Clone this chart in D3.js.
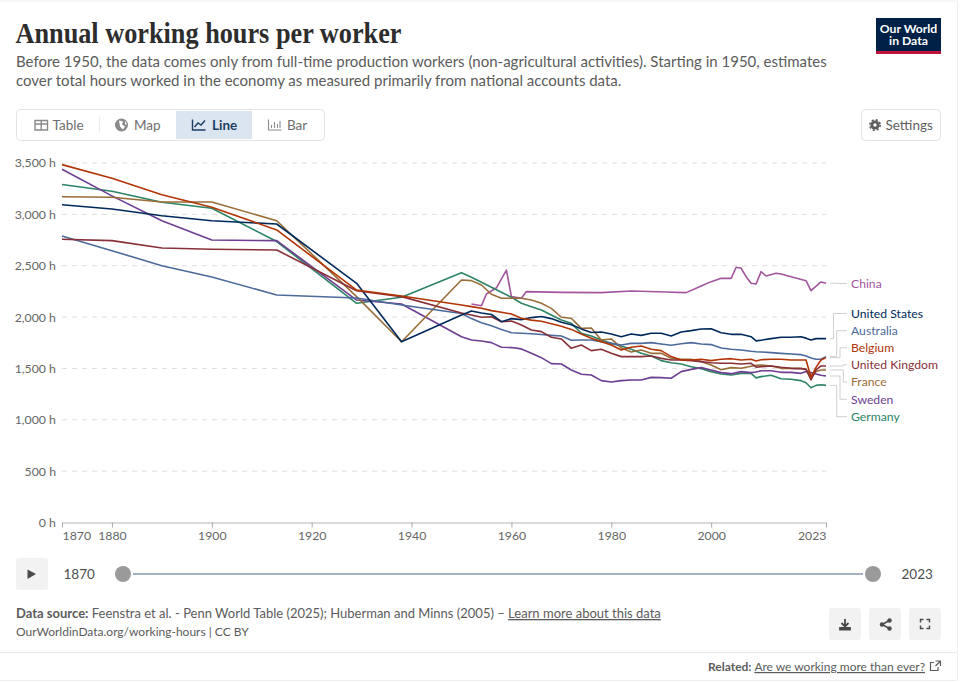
<!DOCTYPE html>
<html lang="en">
<head>
<meta charset="UTF-8" />
<title>Annual working hours per worker</title>
<script src="https://cdn.jsdelivr.net/npm/d3@7"></script>
<style>
  html, body { margin: 0; padding: 0; background: #fff; }
  svg { display: block; }
  text { font-family: Lato, "Noto Sans", sans-serif; }
</style>
</head>
<body>
<div id="chart"></div>
<script>
// shared years for the seven long series
const years = [1870,1880,1890,1900,1913,1929,1938,1950,
  1952,1954,1956,1958,1960,1962,1964,1966,1968,1970,1972,1974,1976,1978,1980,1982,1984,1986,1988,1990,
  1992,1994,1996,1998,2000,2002,2004,2006,2008,2009,2010,2012,2014,2016,2018,2019,2020,2021,2022,2023];

const unitedStates = [3094,3052,2987,2938,2906,2329,1760,2020,
  2060,2040,2025,1955,1985,1975,1995,2005,1985,1950,1925,1885,1850,1855,1835,1809,1835,1822,1842,1842,
  1816,1855,1868,1884,1887,1848,1832,1832,1809,1768,1775,1790,1803,1803,1809,1795,1777,1790,1790,1790];
const australia = [2790,2646,2500,2390,2215,2185,2118,2035,
  1985,1945,1915,1880,1848,1842,1838,1830,1822,1816,1774,1777,1777,1761,1744,1728,1744,1744,1751,1738,
  1725,1741,1751,1738,1732,1699,1686,1680,1667,1662,1660,1654,1647,1641,1634,1621,1602,1589,1589,1615];
const belgium = [3484,3352,3190,3070,2848,2262,2205,2118,
  2102,2086,2063,2047,2030,1988,1970,1960,1935,1910,1880,1835,1793,1761,1728,1680,1706,1718,1686,1673,
  1615,1582,1582,1589,1576,1589,1595,1582,1589,1572,1585,1589,1589,1582,1582,1582,1414,1510,1582,1605];
const unitedKingdom = [2757,2744,2673,2660,2653,2257,2199,2040,
  2020,1998,2003,1955,1962,1923,1874,1858,1803,1787,1696,1728,1673,1686,1647,1615,1615,1615,1621,1598,
  1582,1582,1576,1566,1556,1550,1550,1543,1550,1513,1517,1524,1511,1501,1498,1491,1388,1485,1524,1524];
const france = [3172,3166,3120,3120,2938,2199,1760,2361,
  2355,2312,2222,2183,2183,2183,2166,2134,2085,1998,1988,1890,1893,1777,1787,1700,1660,1680,1647,1647,
  1598,1589,1589,1566,1534,1488,1508,1501,1521,1530,1534,1524,1501,1501,1501,1491,1427,1469,1485,1485];
const sweden = [3439,3180,2938,2750,2744,2166,2127,1809,
  1777,1767,1751,1706,1703,1690,1647,1605,1547,1543,1485,1443,1436,1381,1368,1381,1387,1387,1413,1410,
  1404,1469,1491,1508,1485,1459,1449,1469,1459,1465,1478,1478,1462,1462,1452,1469,1459,1446,1433,1426];
const germany = [3290,3225,3118,3060,2735,2134,2193,2432,
  2387,2339,2290,2241,2193,2134,2101,2069,2020,1972,1939,1842,1816,1777,1744,1718,1686,1647,1621,1576,
  1556,1543,1517,1498,1469,1446,1436,1452,1452,1408,1420,1433,1400,1394,1381,1361,1312,1335,1341,1335];

const chinaYears = [1952,1954,1955,1957,1959,1960,1962,1963,1970,1978,1984,1991,1995,1998,2000,2002,2004,2005,2006,2007,2008,2009,2010,2011,2013,2014,2016,2019,2020,2022,2023];
const china = [2128,2111,2225,2285,2458,2199,2183,2248,2240,2238,2254,2244,2238,2303,2345,2377,2377,2485,2475,2393,2329,2322,2442,2400,2426,2420,2393,2354,2257,2342,2329];

const yTicks = [0,500,1000,1500,2000,2500,3000,3500];
const xTicks = [1870,1880,1900,1920,1940,1960,1980,2000,2023];

const series = [
  {name: "China", x: chinaYears, v: china, color: "#A2559C"},
  {name: "Germany", x: years, v: germany, color: "#2C8465"},
  {name: "Sweden", x: years, v: sweden, color: "#6D3E91"},
  {name: "France", x: years, v: france, color: "#996D39"},
  {name: "Australia", x: years, v: australia, color: "#4C6A9C"},
  {name: "United Kingdom", x: years, v: unitedKingdom, color: "#883039"},
  {name: "United States", x: years, v: unitedStates, color: "#00295B"},
  {name: "Belgium", x: years, v: belgium, color: "#B13507"}
];

// where the end labels sit and where their connector bends
const labelLayout = {
  "China": {y: 283.5, bend: 838},
  "United States": {y: 313.5, bend: 833.5},
  "Australia": {y: 330.7, bend: 836.7},
  "Belgium": {y: 347.8, bend: 840},
  "United Kingdom": {y: 364.8, bend: 843.3},
  "France": {y: 382, bend: 843.3},
  "Sweden": {y: 399.3, bend: 840},
  "Germany": {y: 416.7, bend: 836.7}
};

const w = 960, h = 682;
const svg = d3.select("#chart").append("svg").attr("width", w).attr("height", h);

const grey = "#5b5b5b";

// page frame
svg.append("line").attr("x1",0).attr("x2",957).attr("y1",1).attr("y2",1).attr("stroke","#efefef");
svg.append("line").attr("x1",957.5).attr("x2",957.5).attr("y1",1).attr("y2",680).attr("stroke","#efefef");
svg.append("line").attr("x1",0).attr("x2",957).attr("y1",652.5).attr("y2",652.5).attr("stroke","#e9e9e9");
svg.append("line").attr("x1",0).attr("x2",957).attr("y1",680.5).attr("y2",680.5).attr("stroke","#efefef");

// header
svg.append("text").attr("x",15.5).attr("y",43).text("Annual working hours per worker")
  .style("font-family","'Liberation Serif', serif").style("font-weight",700).style("font-size","28.5px")
  .attr("textLength",386).attr("lengthAdjust","spacingAndGlyphs").attr("fill","#2d2d2d");
svg.append("text").attr("x",16).attr("y",67).text("Before 1950, the data comes only from full-time production workers (non-agricultural activities). Starting in 1950, estimates")
  .style("font-size","15px").attr("fill",grey);
svg.append("text").attr("x",16).attr("y",86).text("cover total hours worked in the economy as measured primarily from national accounts data.")
  .style("font-size","15px").attr("fill",grey);

// logo
svg.append("rect").attr("x",876).attr("y",18).attr("width",65).attr("height",36).attr("fill","#002147");
svg.append("rect").attr("x",876).attr("y",51).attr("width",65).attr("height",3).attr("fill","#c0143c");
const logo = svg.append("text").attr("text-anchor","middle").style("font-size","12.2px").style("font-weight",700).attr("fill","#fff");
logo.append("tspan").attr("x",908.5).attr("y",33).text("Our World");
logo.append("tspan").attr("x",908.5).attr("y",45).text("in Data");

// tabs
svg.append("rect").attr("x",16.5).attr("y",109.5).attr("width",308).attr("height",31).attr("rx",4)
  .attr("fill","#fff").attr("stroke","#e3e3e3");
svg.append("rect").attr("x",176).attr("y",111).attr("width",76).attr("height",28).attr("fill","#dbe5f0");
svg.append("line").attr("x1",99.5).attr("x2",99.5).attr("y1",117).attr("y2",133).attr("stroke","#ececec");
const tabNames = ["Table","Map","Line","Bar"];
const tabX = [52.5,134,212,287];
svg.selectAll(".tab").data(tabNames).enter().append("text").attr("class","tab")
  .attr("x",(d,i) => tabX[i]).attr("y",130).text(d => d)
  .style("font-size","13.5px").style("font-weight",d => d === "Line" ? 700 : 400)
  .attr("fill",d => d === "Line" ? "#1d3d63" : "#6e6e6e");
// tab icons
const iconGrey = "#8a8a8a";
svg.append("path").attr("d","M35 120.5h12.5v9.5h-12.5zM35 124h12.5M41.2 120.5v9.5").attr("fill","none").attr("stroke",iconGrey).attr("stroke-width",1.4);
svg.append("circle").attr("cx",121.5).attr("cy",125).attr("r",6.5).attr("fill",iconGrey);
svg.append("path").attr("d","M119 120.5l4 1-1 3 3 2-2 3-3-3zM125 121l2 3-2 1z").attr("fill","#fff");
svg.append("path").attr("d","M192.5 119.5v10.5h13M194.5 127l3.5-4 3 2 4-4.5").attr("fill","none").attr("stroke","#1d3d63").attr("stroke-width",1.4);
svg.append("path").attr("d","M268.5 119.5v10.5h13M271.5 128v-3M274.5 128v-6M277.5 128v-4M280 128v-7").attr("fill","none").attr("stroke",iconGrey).attr("stroke-width",1.1);

// settings
svg.append("rect").attr("x",861.5).attr("y",109.5).attr("width",79).attr("height",31).attr("rx",4)
  .attr("fill","#fff").attr("stroke","#e3e3e3");
svg.append("circle").attr("cx",875).attr("cy",125).attr("r",4.6).attr("fill","#5f5f5f");
svg.append("circle").attr("cx",875).attr("cy",125).attr("r",5.2).attr("fill","none").attr("stroke","#5f5f5f").attr("stroke-width",1.6).attr("stroke-dasharray","2.1,2");
svg.append("circle").attr("cx",875).attr("cy",125).attr("r",1.7).attr("fill","#fff");
svg.append("text").attr("x",885.5).attr("y",130).text("Settings").style("font-size","13.5px").attr("fill","#5f5f5f");

// scales
const xScale = d3.scaleLinear([1870, 2023], [62, 826]);
const yScale = d3.scaleLinear([0, 3500], [522.5, 163]);

// grid lines and y axis
const yAxis = svg.append("g").attr("transform","translate(62,0)")
  .call(d3.axisLeft(yScale).tickValues(yTicks).tickSize(0).tickPadding(6).tickFormat(d => d3.format(",")(d) + " h"));
yAxis.select(".domain").remove();
yAxis.selectAll("text").style("font-family","Lato").style("font-size","12.3px").attr("fill","#666");
svg.selectAll(".grid").data(yTicks.slice(1)).enter().append("line").attr("class","grid")
  .attr("x1",62).attr("x2",826).attr("y1",d => yScale(d)).attr("y2",d => yScale(d))
  .attr("stroke","#dddddd").attr("stroke-dasharray","5,5");

// x axis
const xAxis = svg.append("g").attr("transform","translate(0,522.5)")
  .call(d3.axisBottom(xScale).tickValues(xTicks).tickSize(5).tickSizeOuter(0).tickPadding(4).tickFormat(d3.format("d")));
xAxis.select(".domain").attr("stroke","#b5b5b5").attr("stroke-width",1.2);
xAxis.selectAll("line").attr("stroke","#a8a8a8");
xAxis.selectAll("text").style("font-family","Lato").style("font-size","12.3px").attr("fill","#666")
  .attr("text-anchor",d => d === 1870 ? "start" : d === 2023 ? "end" : "middle");

// lines
const line = d3.line().x(d => xScale(d[0])).y(d => yScale(d[1]));
svg.selectAll(".series").data(series).enter().append("path").attr("class","series")
  .attr("fill","none").attr("stroke",d => d.color).attr("stroke-width",1.6).attr("stroke-linejoin","round")
  .attr("d",d => line(d3.zip(d.x, d.v)));

// end labels with connectors
const ends = svg.selectAll(".end").data(series).enter().append("g").attr("class","end");
ends.append("path").attr("fill","none").attr("stroke","#cfcfcf").attr("d",d => {
  const y0 = yScale(d.v[d.v.length - 1]);
  const l = labelLayout[d.name];
  return "M830," + y0 + "H" + l.bend + "V" + l.y + "H847";
});
ends.append("text").attr("x",851).attr("y",d => labelLayout[d.name].y + 4.2).text(d => d.name)
  .style("font-size","12.2px").attr("fill",d => d.color);

// timeline
svg.append("rect").attr("x",16).attr("y",558).attr("width",32).attr("height",32).attr("rx",3).attr("fill","#f2f2f2");
svg.append("path").attr("d","M27.5 569.5L36 574L27.5 579Z").attr("fill","#4a4a4a");
svg.append("text").attr("x",63.5).attr("y",579).text("1870").style("font-size","13.5px").attr("fill","#4e4e4e");
svg.append("text").attr("x",901.5).attr("y",579).text("2023").style("font-size","13.5px").attr("fill","#4e4e4e");
svg.append("line").attr("x1",133).attr("x2",863).attr("y1",574).attr("y2",574).attr("stroke","#a3b0bd").attr("stroke-width",2);
svg.append("circle").attr("cx",123).attr("cy",574).attr("r",8).attr("fill","#9a9a9a");
svg.append("circle").attr("cx",873).attr("cy",574).attr("r",8).attr("fill","#9a9a9a");

// footer
const src = svg.append("text").attr("x",16).attr("y",618).style("font-size","13px").attr("fill",grey);
src.append("tspan").style("font-weight",700).text("Data source:");
src.append("tspan").text(" Feenstra et al. - Penn World Table (2025); Huberman and Minns (2005) – ");
src.append("tspan").style("text-decoration","underline").text("Learn more about this data");
svg.append("text").attr("x",16).attr("y",636).text("OurWorldinData.org/working-hours | CC BY").style("font-size","12px").attr("fill",grey);

const rel = svg.append("text").attr("x",925).attr("y",671).attr("text-anchor","end").style("font-size","12px").attr("fill",grey);
rel.append("tspan").style("font-weight",700).text("Related: ");
rel.append("tspan").style("text-decoration","underline").text("Are we working more than ever?");
svg.append("path").attr("d","M938 667v3.5h-7.5v-8h3.5M935.5 661h5v5M940.5 661l-5 5").attr("fill","none").attr("stroke",grey).attr("stroke-width",1.2);

// action buttons
svg.selectAll(".btn").data([829,869,909]).enter().append("rect").attr("class","btn")
  .attr("x",d => d).attr("y",608).attr("width",32).attr("height",32).attr("rx",3).attr("fill","#f2f2f2");
svg.append("path").attr("d","M845 619v7M841.5 623l3.5 3.5 3.5-3.5M840 628h10v1.5h-10z").attr("fill","none").attr("stroke","#4a4a4a").attr("stroke-width",1.8);
svg.append("path").attr("d","M889.5 620.5L882 624.5L889.5 628.5").attr("fill","none").attr("stroke","#4a4a4a").attr("stroke-width",1.5);
svg.selectAll(".shareDot").data([[889.5,620.5],[882,624.5],[889.5,628.5]]).enter().append("circle").attr("class","shareDot")
  .attr("cx",d => d[0]).attr("cy",d => d[1]).attr("r",2.2).attr("fill","#4a4a4a");
svg.append("path").attr("d","M920.5 622.5v-3h3M926.5 619.5h3v3M929.5 625.5v3h-3M923.5 628.5h-3v-3").attr("fill","none").attr("stroke","#4a4a4a").attr("stroke-width",1.4);
</script>
</body>
</html>
